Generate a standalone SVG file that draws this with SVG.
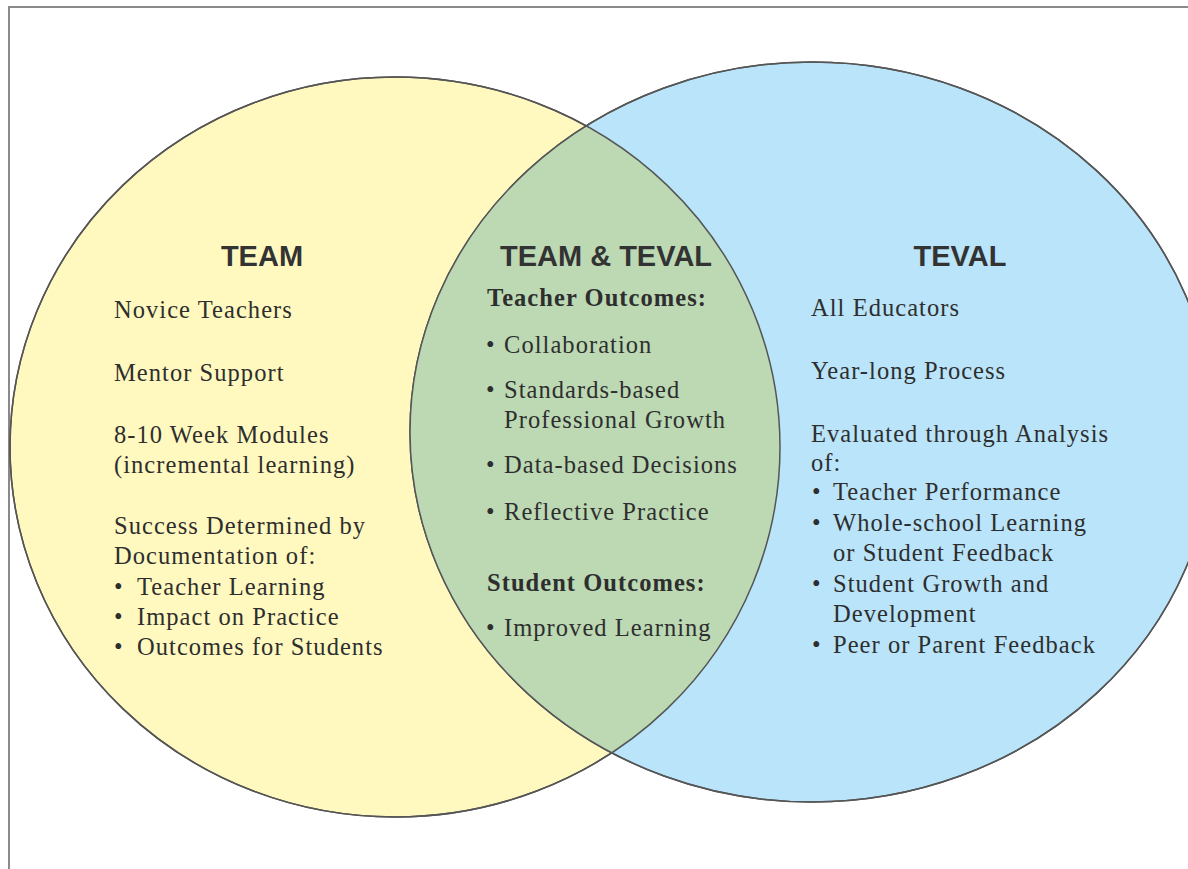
<svg xmlns="http://www.w3.org/2000/svg" width="1188" height="869" viewBox="0 0 1188 869">
<style>
.h{font-family:"Liberation Sans",Arial,sans-serif;font-weight:bold;font-size:29px;fill:#333;text-anchor:middle}
.t{font-family:"Liberation Serif","Times New Roman",serif;font-size:24.5px;letter-spacing:1.05px;fill:#2e2e2e}
.b{font-weight:bold}
.c{stroke:#555;stroke-width:1.5}
</style>
<defs>
<clipPath id="clipL"><ellipse cx="395" cy="447" rx="385" ry="370"/></clipPath>
</defs>
<rect x="9" y="7" width="1200" height="900" fill="#fff" stroke="#8a8a8a" stroke-width="2"/>
<g id="team-circle"><ellipse class="c" cx="395" cy="447" rx="385" ry="370" fill="#FFF9C0"/></g>
<g id="teval-circle"><ellipse class="c" cx="812" cy="432" rx="402" ry="370" fill="#B9E4F9"/></g>
<g id="overlap"><ellipse cx="812" cy="432" rx="402" ry="370" fill="#BCD9B4" clip-path="url(#clipL)"/>
<ellipse cx="395" cy="447" rx="385" ry="370" fill="none" class="c"/>
<ellipse cx="812" cy="432" rx="402" ry="370" fill="none" class="c"/></g>
<g id="team-text">
<text class="h" x="262" y="266">TEAM</text>
<text class="t" x="114" y="318">Novice Teachers</text>
<text class="t" x="114" y="381">Mentor Support</text>
<text class="t" x="114" y="443">8-10 Week Modules</text>
<text class="t" x="114" y="473">(incremental learning)</text>
<text class="t" x="114" y="534">Success Determined by</text>
<text class="t" x="114" y="564">Documentation of:</text>
<text class="t" x="114" y="595">•</text><text class="t" x="137" y="595">Teacher Learning</text>
<text class="t" x="114" y="625">•</text><text class="t" x="137" y="625">Impact on Practice</text>
<text class="t" x="114" y="655">•</text><text class="t" x="137" y="655">Outcomes for Students</text>
</g>
<g id="both-text">
<text class="h" x="606" y="266">TEAM &amp; TEVAL</text>
<text class="t b" x="487" y="306">Teacher Outcomes:</text>
<text class="t" x="486" y="353">•</text><text class="t" x="504" y="353">Collaboration</text>
<text class="t" x="486" y="398">•</text><text class="t" x="504" y="398">Standards-based</text>
<text class="t" x="504" y="428">Professional Growth</text>
<text class="t" x="486" y="473">•</text><text class="t" x="504" y="473">Data-based Decisions</text>
<text class="t" x="486" y="520">•</text><text class="t" x="504" y="520">Reflective Practice</text>
<text class="t b" x="487" y="591">Student Outcomes:</text>
<text class="t" x="486" y="636">•</text><text class="t" x="504" y="636">Improved Learning</text>
</g>
<g id="teval-text">
<text class="h" x="960" y="266">TEVAL</text>
<text class="t" x="811" y="316">All Educators</text>
<text class="t" x="811" y="379">Year-long Process</text>
<text class="t" x="811" y="442">Evaluated through Analysis</text>
<text class="t" x="811" y="471">of:</text>
<text class="t" x="812" y="500">•</text><text class="t" x="833" y="500">Teacher Performance</text>
<text class="t" x="812" y="531">•</text><text class="t" x="833" y="531">Whole-school Learning</text>
<text class="t" x="833" y="561">or Student Feedback</text>
<text class="t" x="812" y="592">•</text><text class="t" x="833" y="592">Student Growth and</text>
<text class="t" x="833" y="622">Development</text>
<text class="t" x="812" y="653">•</text><text class="t" x="833" y="653">Peer or Parent Feedback</text>
</g>
</svg>
